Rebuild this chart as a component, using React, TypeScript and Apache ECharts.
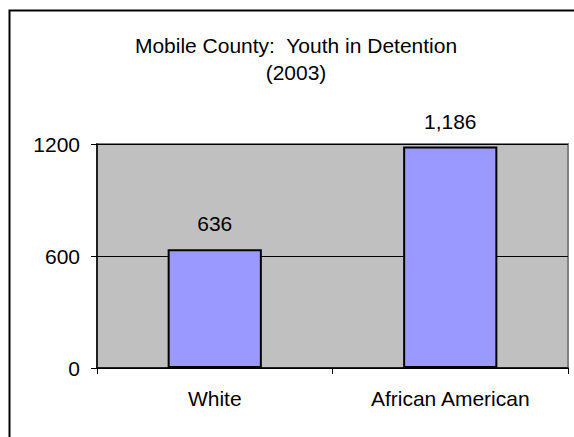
import React, { useEffect, useRef } from "react";
import * as echarts from "echarts";

const categories: string[] = ["White", "African American"];
const detained: number[] = [636, 1186];
const yTicks: number[] = [0, 600, 1200];
const titleLines: string[] = ["Mobile County:  Youth in Detention", "(2003)"];

const FONT = "'Liberation Sans', Arial, sans-serif";

export default function App() {
  const ref = useRef<HTMLDivElement>(null);
  useEffect(() => {
    if (!ref.current) return;
    const chart = echarts.init(ref.current, undefined, { renderer: "svg" });
    chart.setOption({
      animation: false,
      backgroundColor: "#ffffff",
      textStyle: { fontFamily: FONT, color: "#000" },
      graphic: [
        {
          type: "rect",
          shape: { x: 9.5, y: 10.5, width: 700, height: 600 },
          style: { fill: "none", stroke: "#000", lineWidth: 2 },
          silent: true,
          z: -1,
        },
        {
          type: "text",
          x: 296,
          y: 45,
          style: {
            text: titleLines[0],
            fontFamily: FONT,
            fontSize: 21,
            fill: "#000",
            textAlign: "center",
            textVerticalAlign: "middle",
          },
        },
        {
          type: "text",
          x: 296,
          y: 72,
          style: {
            text: titleLines[1],
            fontFamily: FONT,
            fontSize: 21,
            fill: "#000",
            textAlign: "center",
            textVerticalAlign: "middle",
          },
        },
      ],
      grid: {
        left: 97,
        top: 144,
        right: 6,
        bottom: 69,
        show: true,
        backgroundColor: "#C0C0C0",
        borderColor: "#808080",
        borderWidth: 2,
        containLabel: false,
      },
      xAxis: {
        type: "category",
        data: categories,
        boundaryGap: true,
        axisLine: { show: true, lineStyle: { color: "#000", width: 1.5 } },
        axisTick: { show: true, length: 6, alignWithLabel: false, lineStyle: { color: "#000" } },
        axisLabel: { fontFamily: FONT, fontSize: 21, color: "#000", margin: 20 },
        splitLine: { show: false },
      },
      yAxis: {
        type: "value",
        min: yTicks[0],
        max: yTicks[yTicks.length - 1],
        interval: yTicks[1] - yTicks[0],
        axisLine: { show: true, lineStyle: { color: "#000", width: 1.5 } },
        axisTick: { show: true, length: 6, lineStyle: { color: "#000" } },
        axisLabel: {
          fontFamily: FONT,
          fontSize: 21,
          color: "#000",
          margin: 17,
          formatter: (v: number) => String(v),
        },
        splitLine: { show: true, lineStyle: { color: "#000", width: 1 } },
      },
      series: [
        {
          type: "bar",
          data: detained,
          barWidth: "40%",
          itemStyle: { color: "#9999FF", borderColor: "#000", borderWidth: 2 },
          label: {
            show: true,
            position: "top",
            distance: 15,
            fontFamily: FONT,
            fontSize: 21,
            color: "#000",
            formatter: (p: any) => Number(p.value).toLocaleString("en-US"),
          },
        },
      ],
    });
    return () => chart.dispose();
  }, []);
  return (
    <div
      ref={ref}
      style={{ position: "fixed", left: 0, top: 0, width: 574, height: 437 }}
    />
  );
}
